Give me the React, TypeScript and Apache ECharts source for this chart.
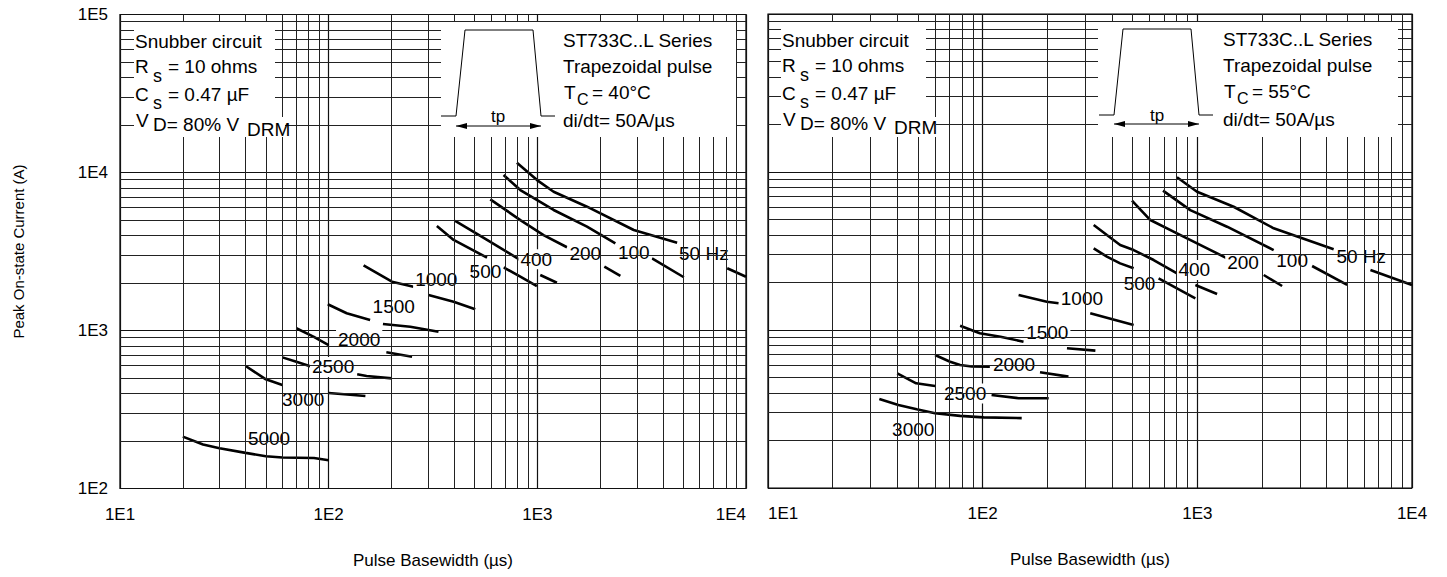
import React, { useEffect, useRef } from 'react';
import * as echarts from 'echarts';

const FONT = '"Liberation Sans", Arial, Helvetica, sans-serif';

// Axis ticks
const X_TICKS = [10, 100, 1000, 10000];
const X_TICK_LABELS = ['1E1', '1E2', '1E3', '1E4'];
const Y_TICKS = [100, 1000, 10000, 100000];
const Y_TICK_LABELS = ['1E2', '1E3', '1E4', '1E5'];
const X_MINOR = [20, 30, 40, 50, 60, 70, 80, 90, 200, 300, 400, 500, 600, 700, 800, 900, 2000, 3000, 4000, 5000, 6000, 7000, 8000, 9000];
const Y_MINOR = [200, 300, 400, 500, 600, 700, 800, 900, 2000, 3000, 4000, 5000, 6000, 7000, 8000, 9000, 20000, 30000, 40000, 50000, 60000, 70000, 80000, 90000];

// Left panel (TC = 40°C): visible segments of each curve, [pulse basewidth µs, peak current A]
const L_5000 = [[[20, 213], [25, 190], [30, 180], [40, 168], [50, 160], [60, 157], [85, 156], [100, 151]]];
const L_3000 = [[[40, 596], [50, 491], [60, 452]], [[100, 402], [150, 385]]];
const L_2500 = [[[60, 676], [70, 634], [83, 590]], [[137, 528], [152, 515], [201, 498]]];
const L_2000 = [[[70, 1033], [84.5, 914], [100, 809]], [[189, 728], [251, 683]]];
const L_1500 = [[[99, 1466], [122, 1285], [158, 1165]], [[182, 1099], [246, 1057], [336, 982]]];
const L_1000 = [[[147, 2586], [201, 2037], [255, 1893]], [[301, 1677], [397, 1521], [504, 1361]]];
const L_500 = [[[330, 4581], [397, 3742], [574, 2891]], [[689, 2512], [829, 2190], [995, 1912]]];
const L_400 = [[[404, 4933], [574, 3742], [829, 2793]], [[1033, 2244], [1241, 2007]]];
const L_200 = [[[595, 6761], [829, 5000], [1071, 4018], [1387, 3363]], [[2095, 2534], [2500, 2213]]];
const L_100 = [[[689, 9635], [829, 7744], [1197, 5791], [1730, 4540], [2366, 3566]], [[3546, 2863], [5036, 2173]]];
const L_50 = [[[798, 11530], [997, 8955], [1197, 7551], [1730, 6075], [2897, 4325], [4677, 3595]], [[8128, 2476], [10000, 2190]]];
const L_LABELS: [string, number, number][] = [
  ['5000', 51.8, 206.6], ['3000', 75.5, 368], ['2500', 105, 588], ['2000', 140, 883], ['1500', 205, 1415],
  ['1000', 328, 2088], ['500', 564, 2356], ['400', 988, 2822], ['200', 1698, 3080], ['100', 2897, 3108], ['50 Hz', 6281, 3081],
];

// Right panel (TC = 55°C)
const R_3000 = [[[33, 366], [40.5, 335], [49.3, 315], [60, 297], [78.5, 286], [101, 280], [152, 277]]];
const R_2500 = [[[40, 532], [49, 460], [60, 442]], [[110, 388], [147, 370], [203, 370]]];
const R_2000 = [[[60, 695], [70.5, 630], [78.5, 600], [89, 588], [108, 586]], [[185, 540], [251, 507]]];
const R_1500 = [[[78.5, 1065], [97, 953], [121, 907], [155, 843]], [[247, 766], [335, 740]]];
const R_1000 = [[[147, 1665], [199, 1510], [226, 1476]], [[317, 1276], [505, 1076]]];
const R_500 = [[[329, 3288], [379, 2911], [437, 2641], [505, 2458]], [[660, 2124], [979, 1587]]];
const R_400 = [[[329, 4620], [379, 3990], [437, 3450], [505, 3206], [626, 2773], [804, 2285]], [[979, 1928], [1236, 1690]]];
const R_200 = [[[496, 6580], [604, 4966], [804, 4093], [1375, 2843]], [[2038, 2229], [2483, 1899]]];
const R_100 = [[[692, 7620], [927, 5740], [1375, 4506], [2268, 3206]], [[3425, 2541], [4989, 1928]]];
const R_50 = [[[804, 9258], [997, 7505], [1476, 6026], [2268, 4403], [4315, 3243]], [[6404, 2398], [10000, 1928]]];
const R_LABELS: [string, number, number][] = [
  ['3000', 47.5, 235], ['2500', 82.8, 397], ['2000', 140, 609], ['1500', 200, 962], ['1000', 290, 1587],
  ['500', 538, 1975], ['400', 968, 2399], ['200', 1633, 2667], ['100', 2764, 2773], ['50 Hz', 5800, 2911],
];

const LEFT_CURVES = [L_5000, L_3000, L_2500, L_2000, L_1500, L_1000, L_500, L_400, L_200, L_100, L_50];
const RIGHT_CURVES = [R_3000, R_2500, R_2000, R_1500, R_1000, R_500, R_400, R_200, R_100, R_50];

const tickLabel = (ticks: number[], labels: string[]) => (v: number) => {
  const i = ticks.findIndex((t) => Math.abs(Math.log10(t) - Math.log10(v)) < 1e-6);
  return i >= 0 ? labels[i] : '';
};

const textStyleBase = { color: '#000', fontFamily: FONT };

function xAxis(gi: number, left: boolean) {
  return {
    type: 'log', logBase: 10, min: 10, max: 10000, splitNumber: 3, gridIndex: gi,
    axisLine: { show: false }, axisTick: { show: false },
    splitLine: { show: true, lineStyle: { color: '#111', width: 1.2 } },
    axisLabel: {
      formatter: tickLabel(X_TICKS, X_TICK_LABELS), fontSize: 17, margin: 17, ...textStyleBase,
      showMinLabel: true, showMaxLabel: true,
      ...(left ? { alignMaxLabel: 'right' } : { alignMinLabel: 'left' }),
    },
    name: 'Pulse Basewidth (µs)', nameLocation: 'middle', nameGap: 63,
    nameTextStyle: { fontSize: 17, ...textStyleBase },
  };
}

function yAxis(gi: number, left: boolean) {
  return {
    type: 'log', logBase: 10, min: 100, max: 100000, splitNumber: 3, gridIndex: gi,
    axisLine: { show: false }, axisTick: { show: false },
    splitLine: { show: true, lineStyle: { color: '#111', width: 1.2 } },
    axisLabel: { show: left, formatter: tickLabel(Y_TICKS, Y_TICK_LABELS), fontSize: 17, margin: 12, ...textStyleBase },
    ...(left ? {
      name: 'Peak On-state Current (A)', nameLocation: 'middle', nameGap: 94,
      nameTextStyle: { fontSize: 15, ...textStyleBase },
    } : {}),
  };
}

function gridSeries(gi: number) {
  return {
    type: 'line', xAxisIndex: gi, yAxisIndex: gi, data: [[10, 100]], symbol: 'none',
    lineStyle: { opacity: 0 }, silent: true, z: 1,
    markLine: {
      silent: true, symbol: ['none', 'none'], label: { show: false }, emphasis: { disabled: true },
      lineStyle: { color: '#222', width: 1, type: 'solid' },
      data: [...X_MINOR.map((v) => ({ xAxis: v })), ...Y_MINOR.map((v) => ({ yAxis: v }))],
    },
  };
}

function curveSeries(curves: number[][][][], gi: number) {
  const out: any[] = [];
  curves.forEach((segs) => segs.forEach((seg) => out.push({
    type: 'line', xAxisIndex: gi, yAxisIndex: gi, data: seg, symbol: 'none', showSymbol: false,
    lineStyle: { color: '#000', width: 2.6 }, silent: true, z: 2,
  })));
  return out;
}

function labelSeries(labels: [string, number, number][], gi: number) {
  return {
    type: 'scatter', xAxisIndex: gi, yAxisIndex: gi, symbolSize: 1,
    itemStyle: { color: '#fff', opacity: 1 },
    silent: true, z: 3,
    data: labels.map(([t, x, y]) => ({ name: t, value: [x, y] })),
    label: {
      show: true, position: 'inside', formatter: '{b}', fontSize: 19, ...textStyleBase,
      opacity: 1, textBorderWidth: 0,
      backgroundColor: '#fff', padding: [1, 2, 0, 2],
    },
  };
}

// graphic helpers (annotation boxes)
const T = (x: number, y: number, text: string, size = 19, align = 'left') => ({
  type: 'text', x, y, z: 101,
  style: { text, fontSize: size, fontFamily: FONT, fill: '#000', textAlign: align, textVerticalAlign: 'middle', align, verticalAlign: 'middle' },
});
const R = (x: number, y: number, w: number, h: number) => ({
  type: 'rect', z: 100, shape: { x, y, width: w, height: h }, style: { fill: '#fff' },
});

function snubber(x0: number, dy: number) {
  return [
    T(x0, 41 + dy, 'Snubber circuit'),
    T(x0, 66 + dy, 'R'), T(x0 + 18, 76 + dy, 's', 18), T(x0 + 33, 66 + dy, '= 10 ohms'),
    T(x0, 94 + dy, 'C'), T(x0 + 18, 103 + dy, 's', 18), T(x0 + 33, 94 + dy, '= 0.47 µF'),
    T(x0 + 1, 120 + dy, 'V'), T(x0 + 18, 124 + dy, 'D= 80% V'),
  ];
}

function series(x0: number, yOff: number, temp: string) {
  return [
    T(x0, 40 + yOff, 'ST733C..L Series'),
    T(x0, 66 + yOff, 'Trapezoidal pulse'),
    T(x0 + 1, 92 + yOff, 'T'), T(x0 + 14, 99 + yOff, 'C', 16), T(x0 + 29, 92 + yOff, temp),
    T(x0, 120 + yOff, 'di/dt= 50A/µs'),
  ];
}

function pulse(xl: number, yb: number, ya: number, dx: number) {
  const p = (x: number) => x + dx;
  return [
    {
      type: 'polyline', z: 101,
      shape: { points: [[p(441), yb], [p(456), yb], [p(465), 30 + (yb - 116)], [p(533), 30 + (yb - 116)], [p(541), yb], [p(555), yb]] },
      style: { stroke: '#000', lineWidth: 1, fill: null },
    },
    { type: 'line', z: 101, shape: { x1: p(456), y1: ya, x2: p(541), y2: ya }, style: { stroke: '#000', lineWidth: 1 } },
    { type: 'polygon', z: 101, shape: { points: [[p(456), ya], [p(467), ya - 3], [p(467), ya + 3]] }, style: { fill: '#000' } },
    { type: 'polygon', z: 101, shape: { points: [[p(541), ya], [p(530), ya - 3], [p(530), ya + 3]] }, style: { fill: '#000' } },
    T(xl, yb, 'tp', 17, 'center'),
  ];
}

const graphicElements = [
  // left panel
  R(134, 22, 141, 115), R(245, 117, 40, 20),
  ...snubber(135, 0), T(247, 129, 'DRM'),
  R(441, 22, 295, 115),
  ...pulse(498, 116, 126, 0),
  ...series(563, 0, '= 40°C'),
  // right panel
  R(781, 22, 145, 115), R(892, 117, 44, 20),
  ...snubber(782, -1), T(894, 127, 'DRM'),
  R(1098, 22, 300, 115),
  ...pulse(1157, 115, 124, 658),
  ...series(1223, -1, '= 55°C'),
];

const option = {
  animation: false,
  backgroundColor: '#fff',
  grid: [
    { left: 120, top: 14.5, width: 626, height: 474, show: true, borderColor: '#000', borderWidth: 1.2, backgroundColor: 'transparent' },
    { left: 768, top: 14, width: 644, height: 474, show: true, borderColor: '#000', borderWidth: 1.2, backgroundColor: 'transparent' },
  ],
  xAxis: [xAxis(0, true), xAxis(1, false)],
  yAxis: [yAxis(0, true), yAxis(1, false)],
  series: [
    gridSeries(0), gridSeries(1),
    ...curveSeries(LEFT_CURVES, 0), ...curveSeries(RIGHT_CURVES, 1),
    labelSeries(L_LABELS, 0), labelSeries(R_LABELS, 1),
  ],
  graphic: { elements: graphicElements },
};

export default function App() {
  const ref = useRef<HTMLDivElement>(null);
  useEffect(() => {
    const chart = echarts.init(ref.current as HTMLDivElement, null, { renderer: 'svg' });
    chart.setOption(option as any);
    return () => chart.dispose();
  }, []);
  return <div ref={ref} style={{ position: 'fixed', left: 0, top: 0, width: 1447, height: 577, background: '#fff' }} />;
}
